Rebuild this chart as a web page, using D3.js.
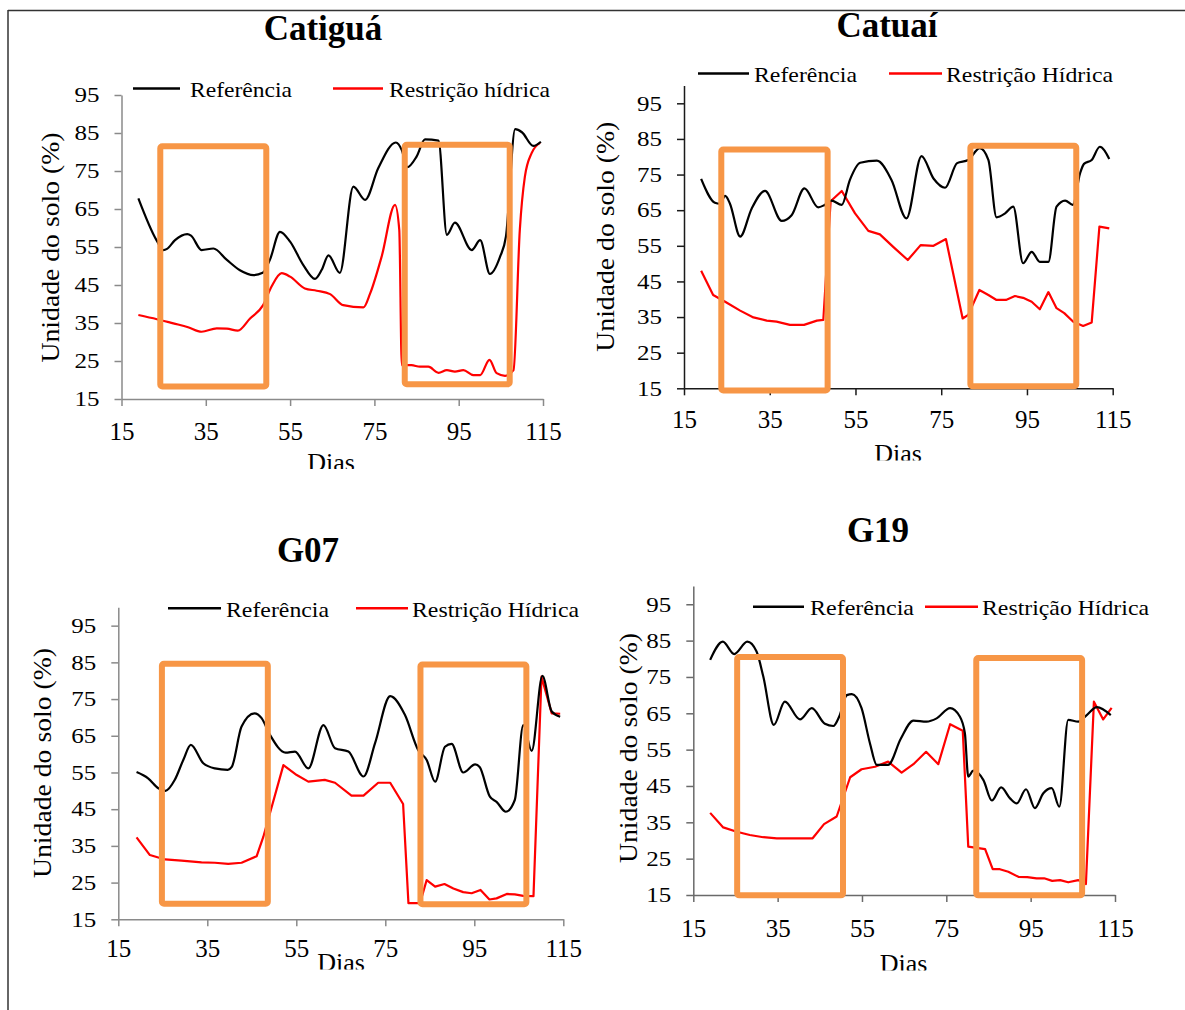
<!DOCTYPE html>
<html><head><meta charset="utf-8">
<script src="https://cdn.jsdelivr.net/npm/d3@7"></script>
<style>body{margin:0;background:#fff}svg{display:block}</style>
</head><body>
<svg id="chart" width="1185" height="1010"></svg>
<script>
// ---------- data ----------
const panelTitles = ["Catiguá", "Catuaí", "G07", "G19"];
const refName = "Referência";
const resNames = ["Restrição hídrica", "Restrição Hídrica", "Restrição Hídrica", "Restrição Hídrica"];
const xTicks = [15, 35, 55, 75, 95, 115];
const yTicks = [15, 25, 35, 45, 55, 65, 75, 85, 95];
const xAxisTitle = "Dias";
const yAxisTitle = "Unidade do solo (%)";

// [dia, umidade]
const catiguaRef = [[19,67.8],[23.3,56.8],[24.9,54.2],[25.8,54.5],[27.7,56.8],[30.6,58.4],[31.5,58.0],[34,54.2],[36.8,54.6],[40,51.6],[43.1,48.9],[46.3,47.6],[48.5,48.2],[50.2,51.6],[52.6,59.0],[55,56.4],[58.1,50.3],[60.9,46.6],[62.5,49],[64.1,52.8],[66.8,48.2],[70,70.9],[72.8,67.4],[75.9,75.7],[80.1,82.5],[81.5,80.5],[82.8,76],[85,78.8],[87,83.3],[90.2,83],[92.2,58.2],[94.1,61.4],[98.1,54.2],[100.1,56.8],[102.4,47.9],[104.8,52.4],[106.2,57.7],[108.4,86],[110,85.2],[112.7,81.6],[114.5,82.7]];
const catiguaRes = [[19,37.1],[23.4,36],[27.3,34.9],[30.8,33.9],[34,32.7],[37.6,33.6],[40,33.5],[42.6,33],[45.5,36.2],[48.6,39.7],[50.6,44.6],[53,48.1],[55,47.2],[58.5,44.1],[61.3,43.5],[64.5,42.6],[67.6,39.7],[72.4,39.1],[74,42.8],[76.7,52.4],[79.9,66.1],[80.9,59.5],[81.5,23.9],[83.8,23.9],[85.8,23.5],[87.8,23.5],[90.2,21.9],[92.2,22.6],[94.1,22.2],[96.1,22.6],[98.5,21.3],[100.1,21.3],[102.3,25.3],[104,21.8],[106,21.1],[108,22.6],[109.5,59.5],[110.7,73.5],[112.3,79.7],[114.3,82.4]];
const catuaiRef = [[19,73.8],[22.2,67.1],[23.4,66.8],[24.6,69],[25.7,66.9],[28.1,57.6],[30.8,65.5],[33.9,70.4],[37.8,62],[40.1,63.6],[43.1,71.1],[46.3,65.8],[47.7,66.4],[49.4,67.7],[51.8,66.5],[53.7,73.5],[56.1,78.3],[60,78.9],[63.4,73.5],[66.9,62.7],[70.4,80.2],[73.2,73.9],[75.9,71.3],[78.7,78.2],[81.3,79.1],[84,82.4],[86,79.1],[87.9,63],[89.9,64.1],[91.8,66],[94.1,50.1],[96.1,53.3],[98,50.5],[100,50.5],[101.9,66],[103.9,67.7],[105.7,66.5],[107.4,75.4],[108.3,78],[110.1,79.1],[112,82.8],[114.2,79.4]];
const catuaiRes = [[19,48],[21.8,41.2],[24.6,39.3],[28.1,36.8],[31.2,34.9],[34.3,34],[36.6,33.7],[39.7,32.8],[43,32.8],[46,34],[47.5,34.2],[49.2,67.5],[51.8,70.4],[54.9,64.1],[58,59.2],[60.7,58.2],[63.8,54.7],[67.2,51],[70.2,55.2],[73.2,55],[76.1,56.9],[80,34.6],[81.3,35.6],[83.9,42.6],[86,41.2],[87.9,39.8],[90.1,39.8],[92.2,40.9],[94.1,40.4],[96.1,39.3],[98,37.2],[100,42],[101.9,37.5],[103.7,36.1],[105.8,33.7],[108.1,32.5],[110.1,33.5],[111.9,60.4],[114.2,59.9]];
const g07Ref = [[19.1,55.1],[21.7,53.4],[24,50.7],[25.6,50],[27.7,53],[29.6,58.4],[31.3,62.5],[34.1,57.5],[36.7,56.1],[39.6,55.7],[40.5,56.5],[42.7,67.5],[45.6,71.1],[47.2,69.8],[49.1,65.2],[52.6,60.4],[54.7,60.7],[57.7,56.1],[61.1,67.9],[63.7,61.6],[66.7,60.7],[70.1,53.9],[72.7,63],[76.1,75.8],[79.4,70.7],[82.4,61.1],[84.3,58.4],[86.2,52.5],[88.4,62],[89.9,62.8],[92.5,55],[95.2,57.2],[96.2,56.5],[98.5,48.4],[100,47],[102.1,44.3],[104.1,47.5],[106,67.9],[107.9,60.9],[110.3,81.3],[112.4,71.6],[114.3,70.2]];
const g07Res = [[19.1,37.3],[22.1,32.5],[25.5,31.3],[29.2,31],[33.7,30.5],[36.7,30.4],[39.7,30.1],[42.7,30.4],[46.1,32.2],[47.6,37.5],[52.1,57],[55.1,54.3],[57.7,52.5],[61.4,53],[63.7,52.2],[67.4,48.7],[70.1,48.7],[73.4,52.2],[76.1,52.2],[79,46.4],[80.2,19.4],[82.8,19.4],[84.3,25.7],[86.2,23.9],[88.3,24.6],[90.3,23.4],[92.5,22.4],[94.4,22.1],[96.4,23],[98.4,20.4],[100,20.7],[102.3,21.9],[104.1,21.8],[106,21.4],[108.3,21.3],[110.1,81.1],[112.4,71.1],[114.3,71]];
const g19Ref = [[19,79.7],[22,84.7],[24.7,81.3],[27.8,84.7],[30,82],[31.6,75.1],[34.1,61.8],[36.7,68.2],[40.3,63.3],[43.1,66.4],[46.2,62.1],[48.2,61.5],[49.6,64.1],[51.4,70],[52.6,70.3],[54.9,66.4],[56.9,56.7],[58.5,50.8],[61.2,50.8],[64.2,58],[67.2,63],[70.3,62.7],[72.7,63.6],[75.9,66.4],[78.2,64.1],[79.4,59.5],[80.2,47.6],[81.4,49.2],[83.8,46.6],[85.8,41],[88,44.6],[90.1,41.6],[91.7,40.2],[93.9,44.1],[96,38.9],[98,43],[100,44.4],[101.8,39.3],[103.9,63.2],[106.3,62.7],[108.3,64.5],[110.7,66.7],[114,64.5]];
const g19Res = [[19,37.6],[22.1,33.6],[25.3,32.4],[28.4,31.5],[31.6,30.9],[34.8,30.6],[37.9,30.6],[41.1,30.6],[43.3,30.6],[46,34.5],[49,36.6],[52.2,47.4],[54.9,49.6],[58.1,50.3],[61.2,51.7],[64.4,48.7],[67.2,51],[70.2,54.4],[73.1,51],[75.9,62],[78.9,60.2],[80.2,28.3],[84.2,27.6],[86,22.1],[87.7,22.1],[89.7,21.4],[92.1,20],[94.2,19.9],[96.4,19.6],[98.2,19.6],[100.1,18.9],[102,19.1],[103.9,18.5],[106.3,19.1],[108.1,18],[110,68.2],[112.2,63.3],[114.2,66.5]];

// highlighted periods: [dia inicial, dia final, umidade min, umidade max]
const catiguaBoxes = [[24.2,49.35,18.3,81.5],[82.2,107.1,18.9,81.9]];
const catuaiBoxes  = [[23.7,48.5,14.4,82.0],[81.8,106.5,15.6,83.1]];
const g07Boxes     = [[24.8,48.6,19.25,84.6],[82.9,106.7,19.1,84.4]];
const g19Boxes     = [[25.4,50.5,14.9,80.5],[82.1,107.2,14.9,80.2]];

const refSeries = [catiguaRef, catuaiRef, g07Ref, g19Ref];
const resSeries = [catiguaRes, catuaiRes, g07Res, g19Res];
const boxes = [catiguaBoxes, catuaiBoxes, g07Boxes, g19Boxes];

// ---------- layout ----------
const layout = [
  {x0:121.5, x1:543,    yb:399,   yt:95,    yMax:95,  axis:"#8a8a8a", smoothRes:true,
   title:[323,40], xLab:41, yLab:[50,247.5], dias:[331,471,469],
   leg:{ly:88.5, ty:96.5, l1:[133,180], t1:[190,102], l2:[333,383], t2:[389,161]}},
  {x0:684,   x1:1112.7, yb:388.3, yt:85.5,  yMax:100, axis:"#1a1a1a", smoothRes:false,
   title:[887,37], xLab:39, yLab:[605,236.7], dias:[898,462,460.5],
   leg:{ly:73.5, ty:81.5, l1:[698,749], t1:[754,103], l2:[889,942], t2:[946,167]}},
  {x0:118.3, x1:563.3,  yb:919.3, yt:607.3, yMax:100, axis:"#8a8a8a", smoothRes:false,
   title:[308,562], xLab:37, yLab:[42,763], dias:[341,971,969.5],
   leg:{ly:608.3, ty:616.5, l1:[168,221], t1:[226,103], l2:[356,408], t2:[412,167]}},
  {x0:693.3, x1:1115,   yb:895,   yt:586.1, yMax:100, axis:"#6a6a6a", smoothRes:false,
   title:[878,542], xLab:42, yLab:[628,748], dias:[903.5,972,970.5],
   leg:{ly:606.7, ty:615, l1:[753,804], t1:[810,104], l2:[925,978], t2:[982,167]}}
];

const svg = d3.select("#chart");
const serif = "'Liberation Serif','Times New Roman',Times,serif";
const orange = "#F79646";

// outer frame
svg.append("line").attr("x1",8).attr("y1",10.5).attr("x2",1185).attr("y2",10.5).attr("stroke","#333").attr("stroke-width",1.5);
svg.append("line").attr("x1",8).attr("y1",10).attr("x2",8).attr("y2",1010).attr("stroke","#333").attr("stroke-width",1.5);

const defs = svg.append("defs");

layout.forEach((L, i) => {
  const g = svg.append("g");
  const x = d3.scaleLinear().domain([15,115]).range([L.x0, L.x1]);
  const y = d3.scaleLinear().domain([15,L.yMax]).range([L.yb, L.yt]);

  // title
  g.append("text").attr("x",L.title[0]).attr("y",L.title[1]).attr("text-anchor","middle")
    .attr("font-family",serif).attr("font-weight","bold").attr("font-size",35).text(panelTitles[i]);

  // axes
  const yAxis = d3.axisLeft(y).tickValues(yTicks).tickSize(7).tickSizeOuter(0).tickPadding(15);
  const gy = g.append("g").attr("transform",`translate(${L.x0},0)`).call(yAxis);
  const xAxis = d3.axisBottom(x).tickValues(xTicks).tickSize(7).tickSizeOuter(0).tickPadding(L.xLab-7-17.5);
  const gx = g.append("g").attr("transform",`translate(0,${L.yb})`).call(xAxis);
  [gx, gy].forEach(a => {
    a.select(".domain").attr("stroke",L.axis).attr("stroke-width",1.5);
    a.selectAll(".tick line").attr("stroke",L.axis).attr("stroke-width",1.5);
    a.selectAll("text").attr("font-family",serif).attr("fill","#000");
  });
  gy.selectAll("text").attr("font-size",21).attr("textLength",25).attr("lengthAdjust","spacingAndGlyphs");
  gx.selectAll("text").attr("font-size",25);

  // lines
  const lineSmooth = d3.line().x(d=>x(d[0])).y(d=>y(d[1])).curve(d3.curveMonotoneX);
  const lineStraight = d3.line().x(d=>x(d[0])).y(d=>y(d[1]));
  g.append("path").datum(resSeries[i]).attr("fill","none").attr("stroke","#ff0000").attr("stroke-width",2.2)
    .attr("stroke-linejoin","round").attr("d", L.smoothRes ? lineSmooth : lineStraight);
  g.append("path").datum(refSeries[i]).attr("fill","none").attr("stroke","#000").attr("stroke-width",2.2)
    .attr("stroke-linejoin","round").attr("d", lineSmooth);

  // highlight boxes
  g.selectAll("rect.box").data(boxes[i]).join("rect").attr("class","box")
    .attr("x",d=>x(d[0])).attr("width",d=>x(d[1])-x(d[0]))
    .attr("y",d=>y(d[3])).attr("height",d=>y(d[2])-y(d[3]))
    .attr("rx",2).attr("fill","none").attr("stroke",orange).attr("stroke-width",6);

  // legend
  const lg = L.leg;
  g.append("line").attr("x1",lg.l1[0]).attr("x2",lg.l1[1]).attr("y1",lg.ly).attr("y2",lg.ly).attr("stroke","#000").attr("stroke-width",2.5);
  g.append("text").attr("x",lg.t1[0]).attr("y",lg.ty).attr("font-family",serif).attr("font-size",22)
    .attr("textLength",lg.t1[1]).attr("lengthAdjust","spacingAndGlyphs").text(refName);
  g.append("line").attr("x1",lg.l2[0]).attr("x2",lg.l2[1]).attr("y1",lg.ly).attr("y2",lg.ly).attr("stroke","#ff0000").attr("stroke-width",2.5);
  g.append("text").attr("x",lg.t2[0]).attr("y",lg.ty).attr("font-family",serif).attr("font-size",22)
    .attr("textLength",lg.t2[1]).attr("lengthAdjust","spacingAndGlyphs").text(resNames[i]);

  // y axis title
  g.append("text").attr("transform",`translate(${L.yLab[0]},${L.yLab[1]}) rotate(-90)`)
    .attr("text-anchor","middle").attr("dominant-baseline","central")
    .attr("font-family",serif).attr("font-size",25).attr("textLength",230).attr("lengthAdjust","spacingAndGlyphs")
    .text(yAxisTitle);

  // x axis title (clipped at bottom, as in the reference)
  const cid = "clipDias" + i;
  defs.append("clipPath").attr("id",cid).append("rect")
    .attr("x",L.dias[0]-60).attr("y",L.dias[1]-40).attr("width",120).attr("height",L.dias[2]-(L.dias[1]-40));
  g.append("text").attr("x",L.dias[0]).attr("y",L.dias[1]).attr("text-anchor","middle")
    .attr("clip-path",`url(#${cid})`)
    .attr("font-family",serif).attr("font-size",26).text(xAxisTitle);
});
</script>
</body></html>
